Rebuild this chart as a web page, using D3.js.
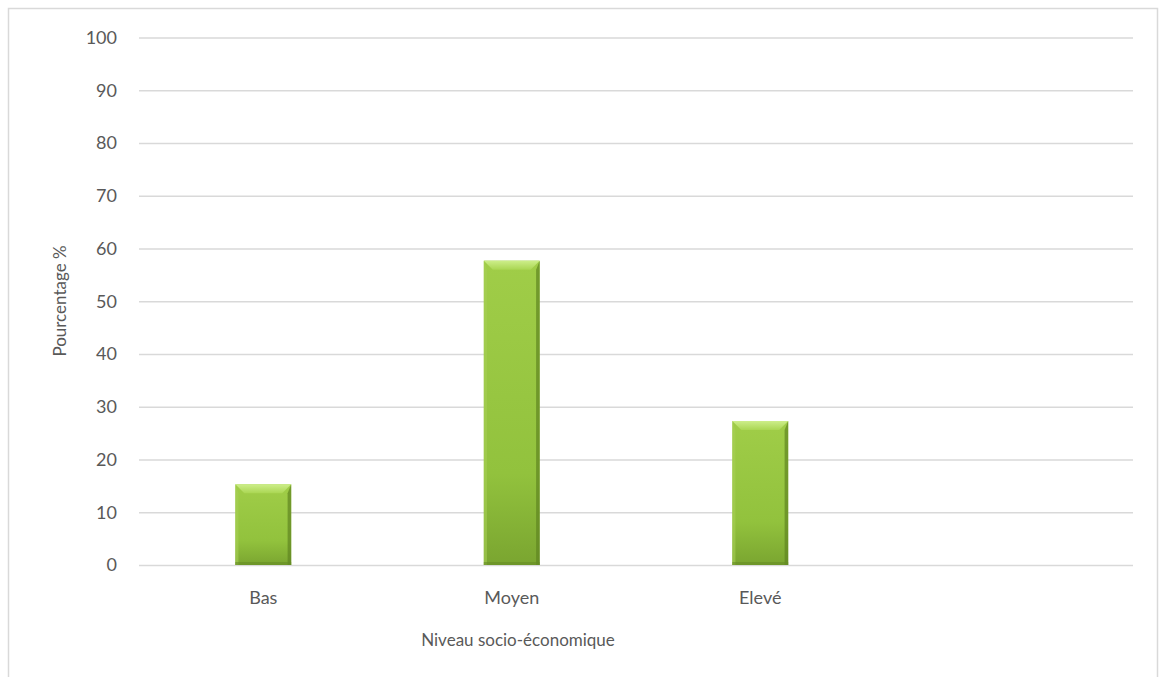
<!DOCTYPE html>
<html><head><meta charset="utf-8">
<script src="https://cdn.jsdelivr.net/npm/d3@7"></script>
<style>body{margin:0;background:#fff;}svg{display:block;font-family:Lato,"Open Sans",sans-serif;}</style>
</head><body><svg id="c" width="1160" height="677"></svg>
<script>
const categories = ["Bas","Moyen","Elevé",""];
const values = [15.3, 57.7, 27.3, null];
const yTicks = [0,10,20,30,40,50,60,70,80,90,100];
const yTitle = "Pourcentage %";
const xTitle = "Niveau socio-économique";

const FONT = "Lato, 'Open Sans', sans-serif";
const svg = d3.select("#c");
const m = {left:139, right:1133, top:37.5, bottom:565};
svg.append("rect").attr("x",8.5).attr("y",8.5).attr("width",1149).attr("height",680)
  .attr("fill","#fff").attr("stroke","#d9d9d9").attr("stroke-width",1.5);

const x = d3.scaleBand().domain(categories).range([m.left,m.right]).paddingInner(0.775).paddingOuter(0.3875);
const y = d3.scaleLinear().domain([0,100]).range([m.bottom,m.top]);

const defs = svg.append("defs");
const g1 = defs.append("linearGradient").attr("id","bodyG").attr("x1",0).attr("y1",0).attr("x2",0).attr("y2",1);
g1.append("stop").attr("offset","0%").attr("stop-color","#a0cd48");
g1.append("stop").attr("offset","70%").attr("stop-color","#92c23d");
g1.append("stop").attr("offset","100%").attr("stop-color","#7aa530");
const g2 = defs.append("linearGradient").attr("id","topG").attr("x1",0).attr("y1",0).attr("x2",0).attr("y2",1);
g2.append("stop").attr("offset","0%").attr("stop-color","#cdee8a");
g2.append("stop").attr("offset","100%").attr("stop-color","#aad653");

// gridlines
const yAxis = d3.axisLeft(y).tickValues(yTicks).tickSize(-(m.right-m.left)).tickPadding(22);
const ga = svg.append("g").attr("transform",`translate(${m.left},0)`).call(yAxis)
  .attr("font-family",FONT);
ga.select(".domain").remove();
ga.selectAll(".tick line").attr("stroke","#d9d9d9").attr("stroke-width",1.3);
ga.selectAll(".tick text").attr("fill","#595959").attr("font-size",18);

// bars
const data = categories.map((c,i)=>({c, v:values[i]})).filter(d=>d.v!=null);
const bw = x.bandwidth();
const bev = 9;
const bars = svg.append("g").selectAll("g").data(data).join("g");
bars.append("rect").attr("x",d=>x(d.c)).attr("y",d=>y(d.v)).attr("width",bw)
  .attr("height",d=>y(0)-y(d.v)).attr("fill","url(#bodyG)");
// top bevel
bars.append("path").attr("d",d=>{
  const x0=x(d.c), x1=x0+bw, t=y(d.v);
  return `M${x0},${t}L${x1},${t}L${x1-bev},${t+bev}L${x0+bev},${t+bev}Z`;
}).attr("fill","url(#topG)");
// left side bevel
bars.append("path").attr("d",d=>{
  const x0=x(d.c), t=y(d.v), b=y(0);
  return `M${x0},${t}L${x0+bev*0.35},${t+bev}L${x0+bev*0.35},${b}L${x0},${b}Z`;
}).attr("fill","#a7cf55").attr("opacity",0.6);
// right side bevel (dark)
bars.append("path").attr("d",d=>{
  const x1=x(d.c)+bw, t=y(d.v), b=y(0);
  return `M${x1},${t}L${x1-bev*0.4},${t+bev}L${x1-bev*0.4},${b}L${x1},${b}Z`;
}).attr("fill","#5f8421").attr("opacity",0.7);
// bottom dark edge
bars.append("rect").attr("x",d=>x(d.c)).attr("y",y(0)-3).attr("width",bw).attr("height",3)
  .attr("fill","#668c24").attr("opacity",0.6);

// x axis labels
const xAxis = d3.axisBottom(x).tickSize(0).tickPadding(26);
const gx = svg.append("g").attr("transform",`translate(0,${m.bottom})`).call(xAxis)
  .attr("font-family",FONT);
gx.select(".domain").remove();
gx.selectAll(".tick text").attr("fill","#595959").attr("font-size",18);

// titles
svg.append("text").attr("transform","translate(66,301) rotate(-90)").attr("text-anchor","middle")
  .attr("font-family",FONT).attr("fill","#595959").attr("font-size",17).text(yTitle);
svg.append("text").attr("x",518).attr("y",646).attr("text-anchor","middle")
  .attr("font-family",FONT).attr("fill","#595959").attr("font-size",17).text(xTitle);
</script></body></html>
